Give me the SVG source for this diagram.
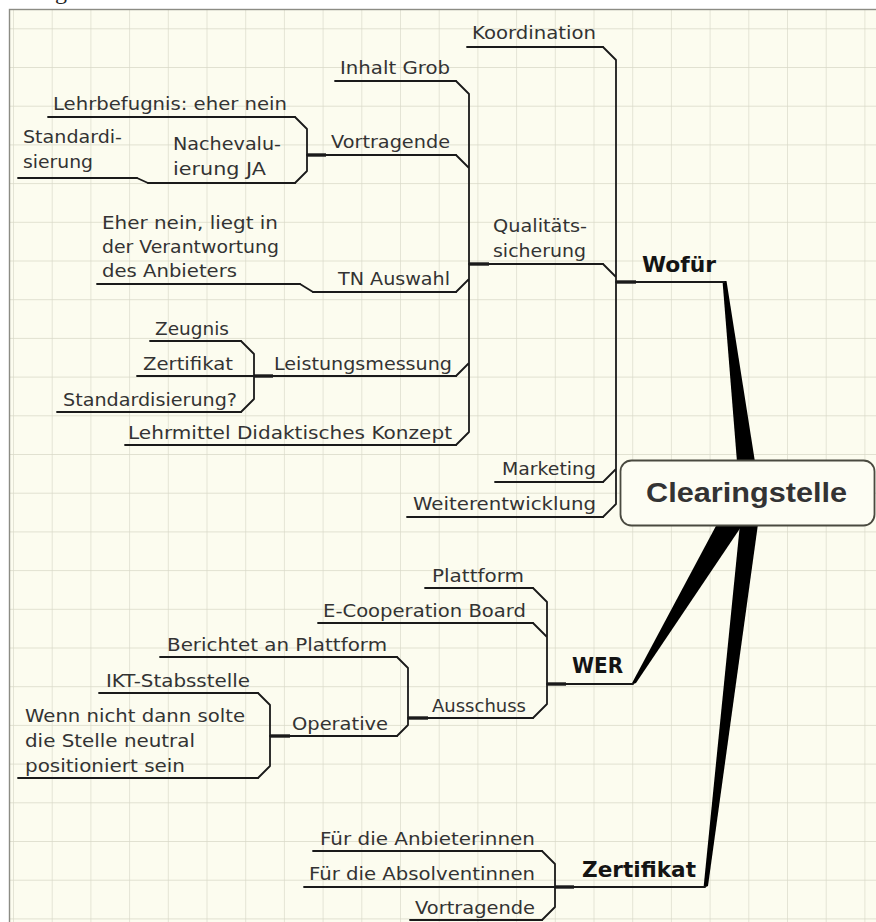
<svg xmlns="http://www.w3.org/2000/svg" width="876" height="922" viewBox="0 0 876 922">
  <defs>
    <pattern id="grid" patternUnits="userSpaceOnUse" x="13" y="28.3" width="38.7" height="38.7">
      <rect width="38.7" height="38.7" fill="#fcfcef"/>
      <path d="M0,0 H38.7 M0,0 V38.7" fill="none" stroke="#d8d8c8" stroke-width="1.3"/>
    </pattern>
    <style>
      .t { font-family: "DejaVu Sans", "Open Sans", sans-serif; font-size: 16.8px; fill: #333333; }
      .b { font-family: "DejaVu Sans", "Open Sans", sans-serif; font-size: 21px; font-weight: bold; fill: #141414; }
      .root { font-family: "Liberation Sans", Arial, sans-serif; font-size: 28.5px; font-weight: bold; fill: #333333; }
      .ln { fill: none; stroke: #1a1a1a; stroke-width: 1.8; stroke-linecap: round; stroke-linejoin: round; }
      .stub { fill: none; stroke: #1a1a1a; stroke-width: 3.4; stroke-linecap: butt; }
      .wedge { fill: #000000; stroke: none; }
    </style>
  </defs>

  <!-- page -->
  <rect x="0" y="0" width="876" height="922" fill="#ffffff"/>
  <rect x="9.5" y="9.5" width="880" height="920" fill="url(#grid)" stroke="#8c8c84" stroke-width="1.4"/>
  <text x="55" y="-1" font-family="Liberation Serif, serif" font-size="24" fill="#222">g</text>

  <!-- connectors: brackets, chamfers, junction stubs and tapered main branches -->
  <g id="connectors">
    <polygon class="wedge" points="722.5,281 726.5,281 755,462 737,462"/>
    <polygon class="wedge" points="631,685 636,683 743,524 717,524"/>
    <polygon class="wedge" points="703.5,888 708,886 758,524 740,524"/>

    <path class="ln" d="M603,47 L616,60 L616,504 L603,517 M603,264 L616,277 M616,469 L603,482"/>
    <path class="stub" d="M616,282 L636,282"/>

    <path class="ln" d="M456,81 L469,94 L469,432 L456,445 M456,155 L469,168 M469,279 L456,292 M469,363 L456,376"/>
    <path class="stub" d="M469,264 L489,264"/>

    <path class="ln" d="M295,117 L307,129 L307,171 L295,183"/>
    <path class="stub" d="M307,155 L326,155"/>
    <path class="ln" d="M137,178 L148,183"/>
    <path class="ln" d="M300,284 L313,292"/>

    <path class="ln" d="M241,341 L254,354 L254,399 L241,412"/>
    <path class="stub" d="M254,376 L273,376"/>

    <path class="ln" d="M533,588 L547,602 L547,704 L533,718 M533,623 L547,637"/>
    <path class="stub" d="M547,684 L566,684"/>

    <path class="ln" d="M397,657 L408,668 L408,725 L397,736"/>
    <path class="stub" d="M408,718 L428,718"/>

    <path class="ln" d="M258,693 L270,705 L270,766 L258,778"/>
    <path class="stub" d="M270,736 L290,736"/>

    <path class="ln" d="M542,851 L555,864 L555,907 L542,920"/>
    <path class="stub" d="M555,887 L574,887"/>
  </g>

  <!-- central topic -->
  <g id="clearingstelle">
    <rect x="620.5" y="460.5" width="254" height="65" rx="11" fill="#fdfdf3" stroke="#4a4a40" stroke-width="1.8"/>
    <text class="root" x="646" y="502" textLength="201" lengthAdjust="spacingAndGlyphs">Clearingstelle</text>
  </g>

  <!-- main branch: Wofür -->
  <g id="wofuer">
    <text class="b" x="642" y="272" textLength="74" lengthAdjust="spacingAndGlyphs">Wofür</text>
    <path class="ln" d="M616,282 L724,282"/>
  </g>
  <g id="koordination">
    <text class="t" x="472" y="39" textLength="124" lengthAdjust="spacingAndGlyphs">Koordination</text>
    <path class="ln" d="M467,47 L603,47"/>
  </g>
  <g id="qualitaetssicherung">
    <text class="t" x="493" y="232" textLength="94" lengthAdjust="spacingAndGlyphs">Qualitäts-</text>
    <text class="t" x="493" y="257" textLength="93" lengthAdjust="spacingAndGlyphs">sicherung</text>
    <path class="ln" d="M469,264 L603,264"/>
  </g>
  <g id="marketing">
    <text class="t" x="502" y="475" textLength="94" lengthAdjust="spacingAndGlyphs">Marketing</text>
    <path class="ln" d="M495,482 L603,482"/>
  </g>
  <g id="weiterentwicklung">
    <text class="t" x="413" y="510" textLength="183" lengthAdjust="spacingAndGlyphs">Weiterentwicklung</text>
    <path class="ln" d="M407,517 L603,517"/>
  </g>

  <!-- Qualitätssicherung sub-topics -->
  <g id="inhalt-grob">
    <text class="t" x="340" y="74" textLength="110" lengthAdjust="spacingAndGlyphs">Inhalt Grob</text>
    <path class="ln" d="M335,81 L456,81"/>
  </g>
  <g id="vortragende">
    <text class="t" x="331" y="148" textLength="119" lengthAdjust="spacingAndGlyphs">Vortragende</text>
    <path class="ln" d="M307,155 L456,155"/>
  </g>
  <g id="lehrbefugnis">
    <text class="t" x="53" y="110" textLength="234" lengthAdjust="spacingAndGlyphs">Lehrbefugnis: eher nein</text>
    <path class="ln" d="M48,117 L295,117"/>
  </g>
  <g id="nachevaluierung">
    <text class="t" x="173" y="150" textLength="108" lengthAdjust="spacingAndGlyphs">Nachevalu-</text>
    <text class="t" x="173" y="175" textLength="93" lengthAdjust="spacingAndGlyphs">ierung JA</text>
    <path class="ln" d="M148,183 L295,183"/>
  </g>
  <g id="standardisierung-1">
    <text class="t" x="23" y="143" textLength="99" lengthAdjust="spacingAndGlyphs">Standardi-</text>
    <text class="t" x="23" y="168" textLength="70" lengthAdjust="spacingAndGlyphs">sierung</text>
    <path class="ln" d="M18,178 L137,178"/>
  </g>
  <g id="tn-auswahl">
    <text class="t" x="338" y="285" textLength="112" lengthAdjust="spacingAndGlyphs">TN Auswahl</text>
    <path class="ln" d="M313,292 L456,292"/>
  </g>
  <g id="eher-nein">
    <text class="t" x="102" y="229" textLength="176" lengthAdjust="spacingAndGlyphs">Eher nein, liegt in</text>
    <text class="t" x="102" y="253" textLength="177" lengthAdjust="spacingAndGlyphs">der Verantwortung</text>
    <text class="t" x="102" y="277" textLength="135" lengthAdjust="spacingAndGlyphs">des Anbieters</text>
    <path class="ln" d="M97,284 L300,284"/>
  </g>
  <g id="leistungsmessung">
    <text class="t" x="274" y="370" textLength="178" lengthAdjust="spacingAndGlyphs">Leistungsmessung</text>
    <path class="ln" d="M254,376 L456,376"/>
  </g>
  <g id="zeugnis">
    <text class="t" x="155" y="335" textLength="74" lengthAdjust="spacingAndGlyphs">Zeugnis</text>
    <path class="ln" d="M150,341 L241,341"/>
  </g>
  <g id="zertifikat-1">
    <text class="t" x="143" y="370" textLength="90" lengthAdjust="spacingAndGlyphs">Zertifikat</text>
    <path class="ln" d="M137,376 L254,376"/>
  </g>
  <g id="standardisierung-2">
    <text class="t" x="63" y="406" textLength="174" lengthAdjust="spacingAndGlyphs">Standardisierung?</text>
    <path class="ln" d="M57,412 L241,412"/>
  </g>
  <g id="lehrmittel">
    <text class="t" x="128" y="439" textLength="324" lengthAdjust="spacingAndGlyphs">Lehrmittel Didaktisches Konzept</text>
    <path class="ln" d="M125,445 L456,445"/>
  </g>

  <!-- main branch: WER -->
  <g id="wer">
    <text class="b" x="572" y="673" textLength="51" lengthAdjust="spacingAndGlyphs">WER</text>
    <path class="ln" d="M547,684 L633,684"/>
  </g>
  <g id="plattform">
    <text class="t" x="432" y="582" textLength="92" lengthAdjust="spacingAndGlyphs">Plattform</text>
    <path class="ln" d="M425,588 L533,588"/>
  </g>
  <g id="e-cooperation-board">
    <text class="t" x="323" y="617" textLength="203" lengthAdjust="spacingAndGlyphs">E-Cooperation Board</text>
    <path class="ln" d="M318,623 L533,623"/>
  </g>
  <g id="ausschuss">
    <text class="t" x="432" y="712" textLength="94" lengthAdjust="spacingAndGlyphs">Ausschuss</text>
    <path class="ln" d="M408,718 L533,718"/>
  </g>
  <g id="berichtet">
    <text class="t" x="167" y="651" textLength="220" lengthAdjust="spacingAndGlyphs">Berichtet an Plattform</text>
    <path class="ln" d="M160,657 L397,657"/>
  </g>
  <g id="operative">
    <text class="t" x="292" y="730" textLength="96" lengthAdjust="spacingAndGlyphs">Operative</text>
    <path class="ln" d="M270,736 L397,736"/>
  </g>
  <g id="ikt-stabsstelle">
    <text class="t" x="106" y="687" textLength="144" lengthAdjust="spacingAndGlyphs">IKT-Stabsstelle</text>
    <path class="ln" d="M99,693 L258,693"/>
  </g>
  <g id="neutral">
    <text class="t" x="25" y="722" textLength="220" lengthAdjust="spacingAndGlyphs">Wenn nicht dann solte</text>
    <text class="t" x="25" y="747" textLength="170" lengthAdjust="spacingAndGlyphs">die Stelle neutral</text>
    <text class="t" x="25" y="772" textLength="160" lengthAdjust="spacingAndGlyphs">positioniert sein</text>
    <path class="ln" d="M18,778 L258,778"/>
  </g>

  <!-- main branch: Zertifikat -->
  <g id="zertifikat">
    <text class="b" x="582" y="877" textLength="114" lengthAdjust="spacingAndGlyphs">Zertifikat</text>
    <path class="ln" d="M555,887 L705,887"/>
  </g>
  <g id="anbieterinnen">
    <text class="t" x="320" y="845" textLength="215" lengthAdjust="spacingAndGlyphs">Für die Anbieterinnen</text>
    <path class="ln" d="M313,851 L542,851"/>
  </g>
  <g id="absolventinnen">
    <text class="t" x="309" y="880" textLength="226" lengthAdjust="spacingAndGlyphs">Für die Absolventinnen</text>
    <path class="ln" d="M304,887 L555,887"/>
  </g>
  <g id="vortragende-2">
    <text class="t" x="415" y="914" textLength="120" lengthAdjust="spacingAndGlyphs">Vortragende</text>
    <path class="ln" d="M410,920 L542,920"/>
  </g>
</svg>
